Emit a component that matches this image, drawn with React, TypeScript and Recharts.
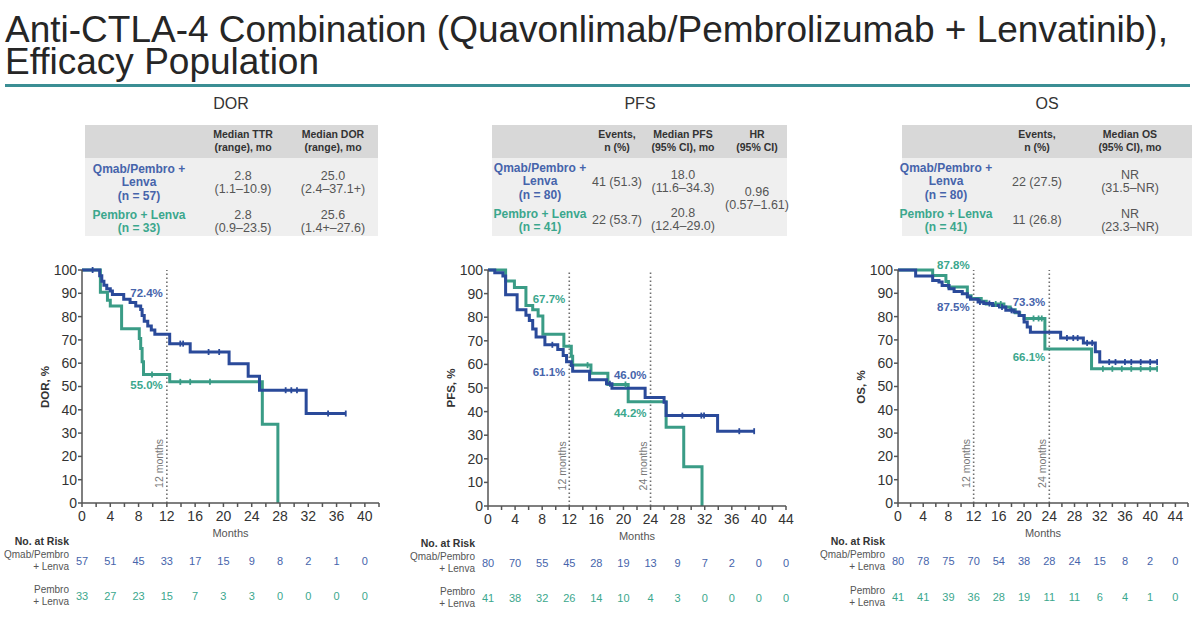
import React from 'react';
import { ComposedChart, Line, Scatter, XAxis, YAxis, ReferenceLine, ReferenceDot } from 'recharts';

const FONT = '"Liberation Sans", Arial, sans-serif';
const BLUE = '#2a4a9a';
const TEAL = '#3a9c86';
const BLUE_TXT = '#4664ab';
const TEAL_TXT = '#3ba78d';

// Kaplan-Meier steps: [month, %]
const dorQmab: [number, number][] = [
  [0, 100], [2.5, 97.5], [2.8, 95.2], [3.1, 93.5], [3.5, 92], [4.0, 91], [4.3, 89.5], [5.9, 87.5],
  [6.8, 86], [7.6, 84.5], [8.3, 83], [8.5, 80.5], [8.8, 78], [9.3, 76], [9.8, 74.2], [10.3, 72.4],
  [12.4, 68.4], [15.3, 64.8], [20.8, 59.8], [23.5, 54.4], [25.1, 48.4], [31.7, 38.4], [37.3, 38.4],
];
const dorQmabCensor = [1.5, 13.9, 14.3, 17.9, 19.4, 28.8, 29.6, 30.4, 34.8, 37.3];
const dorLenva: [number, number][] = [
  [0, 100], [2.6, 90.5], [3.6, 87], [4.0, 84.5], [5.6, 74.8], [8.1, 70.6], [8.3, 66.3], [8.5, 60.6],
  [8.7, 55.1], [12.4, 52], [25.5, 33.8], [27.7, 0],
];
const dorLenvaCensor = [9.9, 13.9, 15.3, 18.1];
const dorMonths = [0, 4, 8, 12, 16, 20, 24, 28, 32, 36, 40];
const dorRiskQmab = [57, 51, 45, 33, 17, 15, 9, 8, 2, 1, 0];
const dorRiskLenva = [33, 27, 23, 15, 7, 3, 3, 0, 0, 0, 0];

const pfsQmab: [number, number][] = [
  [0, 100], [1.0, 98.8], [2.2, 97.5], [2.6, 89.5], [4.3, 83.2], [5.6, 80.8], [6.1, 78.6], [6.6, 75],
  [7.1, 71.6], [8.4, 68.3], [10.3, 66.3], [11.1, 63.8], [11.6, 61.1], [12.3, 59.5], [12.5, 57.1],
  [15.0, 53.5], [17.5, 51.8], [18.3, 49.9], [23.2, 46.0], [26.0, 44], [26.3, 38.3], [33.9, 31.7], [39.3, 31.7],
];
const pfsQmabCensor = [9.5, 18.0, 28.7, 31.5, 31.9, 37.1, 39.3];
const pfsLenva: [number, number][] = [
  [0, 100], [2.6, 95.3], [3.9, 92.6], [5.6, 85], [6.6, 83.2], [7.4, 80.5], [8.1, 72.8], [11.2, 67.7],
  [12.3, 63.5], [12.5, 59.7], [15.2, 56.3], [17.7, 51.5], [20.7, 44.2], [26.3, 33.4], [28.9, 16.6], [31.6, 0],
];
const pfsLenvaCensor = [14.7, 20.3];
const pfsMonths = [0, 4, 8, 12, 16, 20, 24, 28, 32, 36, 40, 44];
const pfsRiskQmab = [80, 70, 55, 45, 28, 19, 13, 9, 7, 2, 0, 0];
const pfsRiskLenva = [41, 38, 32, 26, 14, 10, 4, 3, 0, 0, 0, 0];

const osQmab: [number, number][] = [
  [0, 100], [2.8, 97.4], [5.5, 95.5], [6.5, 94.8], [7.0, 93.4], [8.1, 92], [8.9, 90.8], [10.2, 89.8],
  [11.0, 88.4], [11.5, 87.5], [12.7, 86.3], [13.6, 85.6], [15.0, 84.8], [16.1, 84.1], [17.1, 82.7],
  [18.4, 82], [19.2, 80.5], [20.0, 77.7], [20.5, 75.5], [21.0, 73.3], [25.8, 70.8], [29.4, 68.7],
  [31.3, 64.9], [32.0, 60.5], [41.1, 60.5],
];
const osQmabCensor = [13.0, 14.5, 16.5, 18.0, 26.8, 27.8, 28.5, 30.0, 30.8, 33.5, 34.5, 36.0, 37.0, 38.5, 40.0, 41.1];
const osLenva: [number, number][] = [
  [0, 100], [5.5, 97.6], [7.6, 95.1], [8.0, 92.7], [11.0, 89.0], [11.6, 87.8], [13.2, 86.6], [14.0, 85.4],
  [16.8, 84.1], [17.8, 82.9], [18.6, 81.7], [19.3, 80.5], [20.0, 79.2], [23.3, 66.1], [30.7, 57.6], [41.1, 57.6],
];
const osLenvaCensor = [15.5, 16.3, 21.5, 22.3, 22.8, 32.5, 34.0, 35.5, 37.0, 38.5, 40.0, 41.1];
const osMonths = [0, 4, 8, 12, 16, 20, 24, 28, 32, 36, 40, 44];
const osRiskQmab = [80, 78, 75, 70, 54, 38, 28, 24, 15, 8, 2, 0];
const osRiskLenva = [41, 41, 39, 36, 28, 19, 11, 11, 6, 4, 1, 0];

const yTicks = [0, 10, 20, 30, 40, 50, 60, 70, 80, 90, 100];

const toPts = (c: [number, number][]) => c.map(([t, s]) => ({ t, s }));
const valueAt = (c: [number, number][], t: number) => {
  let v = c[0][1];
  for (const [x, y] of c) if (x <= t) v = y;
  return v;
};
const censorPts = (c: [number, number][], times: number[]) => times.map((t) => ({ t, s: valueAt(c, t) }));

const censorShape = (color: string) => (p: any) => (
  <line x1={p.cx} x2={p.cx} y1={p.cy - 3} y2={p.cy + 3} stroke={color} strokeWidth={1.8} />
);

type Note = { text: string; x: number; y: number; color: string };

interface KMProps {
  plotLeft: number;
  plotW: number;
  plotH: number;
  xMax: number;
  labelMax: number;
  yLabel: string;
  qmab: [number, number][];
  lenva: [number, number][];
  qmabCensor: number[];
  lenvaCensor: number[];
  months: number[];
  riskQmab: number[];
  riskLenva: number[];
  refMonths: number[];
  notes: Note[];
  rowPx: [number, number];
  headPx: number;
}

const CH_TOP = 250;
const CH_H = 370;
const PLOT_TOP = 270;

function KMChart(p: KMProps) {
  const plotBottom = PLOT_TOP + p.plotH;
  const toVal = (px: number) => -((px - plotBottom) / p.plotH) * 100;
  const minor = Array.from({ length: p.xMax / 2 + 1 }, (_, i) => i * 2);
  const xTick = (tp: any) => {
    const v = tp.payload.value;
    if (v % 4 !== 0 || v > p.labelMax) return <g />;
    return (
      <text x={tp.x} y={tp.y} dy="0.75em" textAnchor="middle" fontSize={14} fill="#333">
        {v}
      </text>
    );
  };
  const refLabel = (text: string) => (lp: any) => {
    const vb = lp.viewBox;
    const x = vb.x - 3.5;
    const y = vb.y + vb.height * 0.83;
    return (
      <text x={x} y={y} transform={`rotate(-90 ${x} ${y})`} textAnchor="middle" fontSize={10.5} fill="#777">
        {text}
      </text>
    );
  };
  const left = p.plotLeft - 80;
  return (
    <>
      <div style={{ position: 'absolute', left, top: CH_TOP }}>
        <ComposedChart
          width={80 + p.plotW + 20}
          height={CH_H}
          margin={{ top: PLOT_TOP - CH_TOP, right: 20, left: 0, bottom: CH_H - (PLOT_TOP - CH_TOP) - p.plotH - 30 }}
        >
          <XAxis
            type="number"
            dataKey="t"
            domain={[0, p.xMax]}
            ticks={minor}
            interval={0}
            tick={xTick}
            tickSize={4}
            tickMargin={3}
            height={30}
            stroke="#555"
            strokeWidth={1.5}
            label={(lp: any) => (
              <text x={lp.viewBox.x + lp.viewBox.width / 2} y={lp.viewBox.y + 34} textAnchor="middle" fontSize={11} fill="#555">
                Months
              </text>
            )}
          />
          <YAxis
            type="number"
            dataKey="s"
            domain={[0, 100]}
            ticks={yTicks}
            interval={0}
            width={80}
            tickSize={4}
            tickMargin={1}
            tick={{ fontSize: 14, fill: '#333' }}
            stroke="#555"
            strokeWidth={1.5}
          />
          {p.refMonths.map((m) => (
            <ReferenceLine key={m} x={m} stroke="#6f6f6f" strokeDasharray="1.5 2.5" strokeWidth={1.6} label={refLabel(`${m} months`)} />
          ))}
          <Line data={toPts(p.lenva)} dataKey="s" type="stepAfter" stroke={TEAL} strokeWidth={3} dot={false} isAnimationActive={false} />
          <Scatter data={censorPts(p.lenva, p.lenvaCensor)} dataKey="s" shape={censorShape(TEAL)} isAnimationActive={false} />
          <Line data={toPts(p.qmab)} dataKey="s" type="stepAfter" stroke={BLUE} strokeWidth={3} dot={false} isAnimationActive={false} />
          <Scatter data={censorPts(p.qmab, p.qmabCensor)} dataKey="s" shape={censorShape(BLUE)} isAnimationActive={false} />
          {p.notes.map((n, i) => (
            <ReferenceDot
              key={`n${i}`}
              x={n.x}
              y={n.y}
              r={1}
              fill="none"
              stroke="none"
              ifOverflow="visible"
              label={{ value: n.text, position: 'left', offset: 3, fill: n.color, fontSize: 11.5, fontWeight: 'bold' }}
            />
          ))}
          {p.months.map((m, i) => (
            <ReferenceDot
              key={`a${m}`}
              x={m}
              y={toVal(p.rowPx[0])}
              r={1}
              fill="none"
              stroke="none"
              ifOverflow="visible"
              label={{ value: String(p.riskQmab[i]), position: 'center', fill: BLUE_TXT, fontSize: 11 }}
            />
          ))}
          {p.months.map((m, i) => (
            <ReferenceDot
              key={`b${m}`}
              x={m}
              y={toVal(p.rowPx[1])}
              r={1}
              fill="none"
              stroke="none"
              ifOverflow="visible"
              label={{ value: String(p.riskLenva[i]), position: 'center', fill: TEAL_TXT, fontSize: 11 }}
            />
          ))}
        </ComposedChart>
      </div>
      <div
        style={{
          position: 'absolute',
          left: p.plotLeft - 37 - 60,
          top: PLOT_TOP + p.plotH / 2 - 8,
          width: 120,
          textAlign: 'center',
          fontSize: 11.5,
          fontWeight: 'bold',
          color: '#333',
          lineHeight: '16px',
          transform: 'rotate(-90deg)',
        }}
      >
        {p.yLabel}
      </div>
      <div style={{ position: 'absolute', left: p.plotLeft - 13 - 100, width: 100, top: p.headPx - 7, textAlign: 'right', fontSize: 10.5, fontWeight: 'bold', color: '#333', lineHeight: '14px' }}>
        No. at Risk
      </div>
      <div style={{ position: 'absolute', left: p.plotLeft - 13 - 100, width: 100, top: p.rowPx[0] - 12, textAlign: 'right', fontSize: 10, color: '#555', lineHeight: '12px' }}>
        Qmab/Pembro
        <br />+ Lenva
      </div>
      <div style={{ position: 'absolute', left: p.plotLeft - 13 - 100, width: 100, top: p.rowPx[1] - 12, textAlign: 'right', fontSize: 10, color: '#555', lineHeight: '12px' }}>
        Pembro
        <br />+ Lenva
      </div>
    </>
  );
}

function Block({ cx, cy, lines, color = '#555', bold = false, size = 12.5, lh = 13.5 }: { cx: number; cy: number; lines: string[]; color?: string; bold?: boolean; size?: number; lh?: number }) {
  return (
    <div
      style={{
        position: 'absolute',
        left: cx - 70,
        width: 140,
        top: cy - (lines.length * lh) / 2,
        textAlign: 'center',
        fontSize: size,
        lineHeight: `${lh}px`,
        fontWeight: bold ? 'bold' : 'normal',
        color,
        whiteSpace: 'nowrap',
      }}
    >
      {lines.map((l, i) => (
        <div key={i}>{l}</div>
      ))}
    </div>
  );
}

function TableBg({ x, w }: { x: number; w: number }) {
  return (
    <>
      <div style={{ position: 'absolute', left: x, top: 125, width: w, height: 33, background: '#d8d8d8' }} />
      <div style={{ position: 'absolute', left: x, top: 158, width: w, height: 78, background: '#efefef' }} />
    </>
  );
}

const H = { bold: true, color: '#333', size: 10.5 };

export default function App() {
  return (
    <div style={{ position: 'absolute', left: 0, top: 0, width: 1200, height: 620, background: '#fff', overflow: 'hidden', fontFamily: FONT }}>
      <div style={{ position: 'absolute', left: 5, top: 14, fontSize: 37, lineHeight: '32px', height: 32, color: '#262626', whiteSpace: 'nowrap' }}>
        Anti-CTLA-4 Combination (Quavonlimab/Pembrolizumab + Lenvatinib),
      </div>
      <div style={{ position: 'absolute', left: 5, top: 46, fontSize: 37, lineHeight: '32px', height: 32, color: '#262626', whiteSpace: 'nowrap' }}>
        Efficacy Population
      </div>
      <div style={{ position: 'absolute', left: 5, top: 84, width: 1185, height: 3, background: '#3b8e94' }} />

      <Block cx={231} cy={104} lines={['DOR']} color="#333" size={16} lh={18} />
      <Block cx={640} cy={104} lines={['PFS']} color="#333" size={16} lh={18} />
      <Block cx={1047} cy={104} lines={['OS']} color="#333" size={16} lh={18} />

      {/* DOR table */}
      <TableBg x={85} w={293} />
      <Block cx={243} cy={141} lines={['Median TTR', '(range), mo']} {...H} />
      <Block cx={333} cy={141} lines={['Median DOR', '(range), mo']} {...H} />
      <Block cx={139} cy={183} lines={['Qmab/Pembro +', 'Lenva', '(n = 57)']} bold color={BLUE_TXT} size={12} />
      <Block cx={243} cy={183} lines={['2.8', '(1.1–10.9)']} />
      <Block cx={333} cy={183} lines={['25.0', '(2.4–37.1+)']} />
      <Block cx={139} cy={222} lines={['Pembro + Lenva', '(n = 33)']} bold color={TEAL_TXT} size={12} />
      <Block cx={243} cy={222} lines={['2.8', '(0.9–23.5)']} />
      <Block cx={333} cy={222} lines={['25.6', '(1.4+–27.6)']} />

      {/* PFS table */}
      <TableBg x={492} w={295} />
      <Block cx={617} cy={141} lines={['Events,', 'n (%)']} {...H} />
      <Block cx={683} cy={141} lines={['Median PFS', '(95% CI), mo']} {...H} />
      <Block cx={757} cy={141} lines={['HR', '(95% CI)']} {...H} />
      <Block cx={540} cy={182} lines={['Qmab/Pembro +', 'Lenva', '(n = 80)']} bold color={BLUE_TXT} size={12} />
      <Block cx={617} cy={183} lines={['41 (51.3)']} />
      <Block cx={683} cy={182} lines={['18.0', '(11.6–34.3)']} />
      <Block cx={757} cy={199} lines={['0.96', '(0.57–1.61)']} />
      <Block cx={540} cy={221} lines={['Pembro + Lenva', '(n = 41)']} bold color={TEAL_TXT} size={12} />
      <Block cx={617} cy={221} lines={['22 (53.7)']} />
      <Block cx={683} cy={220} lines={['20.8', '(12.4–29.0)']} />

      {/* OS table */}
      <TableBg x={902} w={290} />
      <Block cx={1037} cy={141} lines={['Events,', 'n (%)']} {...H} />
      <Block cx={1130} cy={141} lines={['Median OS', '(95% CI), mo']} {...H} />
      <Block cx={946} cy={182} lines={['Qmab/Pembro +', 'Lenva', '(n = 80)']} bold color={BLUE_TXT} size={12} />
      <Block cx={1037} cy={183} lines={['22 (27.5)']} />
      <Block cx={1130} cy={182} lines={['NR', '(31.5–NR)']} />
      <Block cx={946} cy={221} lines={['Pembro + Lenva', '(n = 41)']} bold color={TEAL_TXT} size={12} />
      <Block cx={1037} cy={221} lines={['11 (26.8)']} />
      <Block cx={1130} cy={221} lines={['NR', '(23.3–NR)']} />

      <KMChart
        plotLeft={82}
        plotW={297}
        plotH={233}
        xMax={42}
        labelMax={40}
        yLabel="DOR, %"
        qmab={dorQmab}
        lenva={dorLenva}
        qmabCensor={dorQmabCensor}
        lenvaCensor={dorLenvaCensor}
        months={dorMonths}
        riskQmab={dorRiskQmab}
        riskLenva={dorRiskLenva}
        refMonths={[12]}
        notes={[
          { text: '72.4%', x: 12, y: 90, color: BLUE_TXT },
          { text: '55.0%', x: 12, y: 50.8, color: TEAL_TXT },
        ]}
        rowPx={[561, 596]}
        headPx={541}
      />
      <KMChart
        plotLeft={488}
        plotW={298}
        plotH={236}
        xMax={44}
        labelMax={44}
        yLabel="PFS, %"
        qmab={pfsQmab}
        lenva={pfsLenva}
        qmabCensor={pfsQmabCensor}
        lenvaCensor={pfsLenvaCensor}
        months={pfsMonths}
        riskQmab={pfsRiskQmab}
        riskLenva={pfsRiskLenva}
        refMonths={[12, 24]}
        notes={[
          { text: '67.7%', x: 12, y: 87.8, color: TEAL_TXT },
          { text: '61.1%', x: 12, y: 56.7, color: BLUE_TXT },
          { text: '46.0%', x: 24, y: 55.4, color: BLUE_TXT },
          { text: '44.2%', x: 24, y: 39.4, color: TEAL_TXT },
        ]}
        rowPx={[563, 598]}
        headPx={543}
      />
      <KMChart
        plotLeft={898}
        plotW={290}
        plotH={233}
        xMax={46}
        labelMax={44}
        yLabel="OS, %"
        qmab={osQmab}
        lenva={osLenva}
        qmabCensor={osQmabCensor}
        lenvaCensor={osLenvaCensor}
        months={osMonths}
        riskQmab={osRiskQmab}
        riskLenva={osRiskLenva}
        refMonths={[12, 24]}
        notes={[
          { text: '87.8%', x: 12, y: 102.3, color: TEAL_TXT },
          { text: '87.5%', x: 12, y: 84, color: BLUE_TXT },
          { text: '73.3%', x: 24, y: 86.2, color: BLUE_TXT },
          { text: '66.1%', x: 24, y: 62.7, color: TEAL_TXT },
        ]}
        rowPx={[561, 597]}
        headPx={541}
      />
    </div>
  );
}
